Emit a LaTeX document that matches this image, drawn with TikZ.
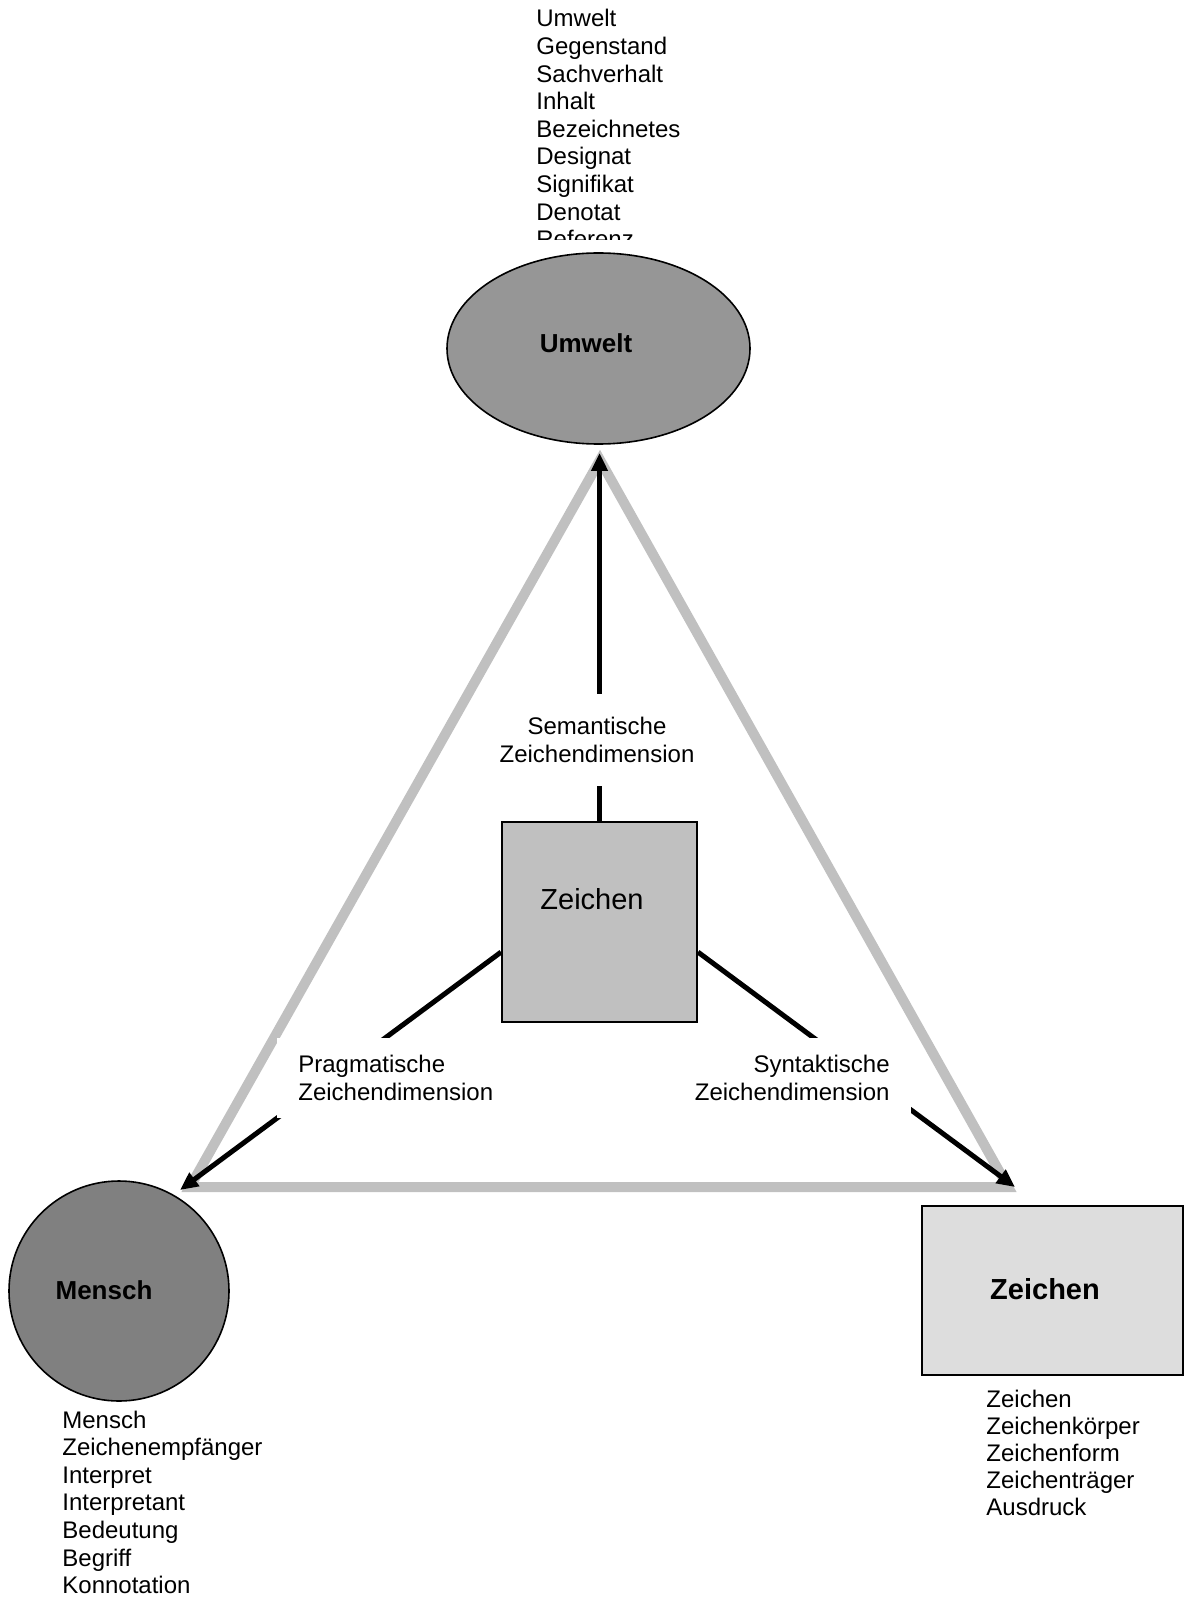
\documentclass[tikz,border=0pt]{standalone}
\usepackage{fontspec}
\setmainfont{Liberation Sans}
\usetikzlibrary{arrows.meta, shapes.geometric}

\definecolor{umweltgrau}{RGB}{150,150,150}
\definecolor{menschgrau}{RGB}{128,128,128}
\definecolor{mittelgrau}{RGB}{192,192,192}
\definecolor{hellgrau}{RGB}{221,221,221}

\newcommand{\listfont}{\fontsize{12}{13.8}\selectfont}

\begin{document}
\begin{tikzpicture}[x=0.5pt, y=-0.5pt]
        \tikzset{
            umweltoval/.style={draw, ellipse, fill=umweltgrau, line width=0.8pt, minimum width=151.5pt, minimum height=95.5pt, inner sep=0pt},
            menschkreis/.style={draw, circle, fill=menschgrau, line width=0.8pt, minimum size=110pt, inner sep=0pt},
            zeichenbox/.style={draw, rectangle, fill=hellgrau, line width=1pt, minimum width=130.5pt, minimum height=84.5pt, inner sep=0pt},
            mittelbox/.style={draw, rectangle, fill=mittelgrau, line width=1pt, minimum width=97.5pt, minimum height=100pt, inner sep=0pt},
            fett/.style={font=\fontsize{13}{15.6}\selectfont\bfseries, inner sep=0pt},
            dimlabel/.style={fill=white, font=\listfont, inner xsep=10.5pt, inner ysep=8.7pt},
            dimpfeil/.style={line width=2.5pt, -{Triangle[length=9pt, width=8pt]}},
            dreieck/.style={draw=mittelgrau, line width=5pt, line join=miter},
            liste/.style={font=\listfont, inner sep=0pt, anchor=base west}
        }
        \useasboundingbox (0,0) rectangle (1185,1598);

        % grey triangle
        \coordinate (spitze) at (600,460);
        \coordinate (linksunten) at (190,1187);
        \coordinate (rechtsunten) at (1008,1187);
        \draw[dreieck] (spitze) -- (linksunten) -- (rechtsunten) -- cycle;

        % the three corners and the sign in the middle
        \node[umweltoval] (umwelt) at (598.5,348.5) {};
        \node[fett] (umweltname) at (586,343) {Umwelt};
        \node[menschkreis] (mensch) at (119,1291) {};
        \node[fett] (menschname) at (104,1290) {Mensch};
        \node[zeichenbox] (zeichen) at (1052.5,1290.5) {};
        \node[fett, font=\fontsize{14.5}{17}\selectfont\bfseries] (zeichenname) at (1045,1289) {Zeichen};
        \node[mittelbox] (mitte) at (599.5,922) {};
        \node[font=\fontsize{14.5}{17}\selectfont, inner sep=0pt] (mittename) at (592,899) {Zeichen};

        % arrows
        \coordinate (umweltspitze) at (599.5,453);
        \coordinate (menschspitze) at (180,1190);
        \coordinate (zeichenspitze) at (1015,1187);
        \draw[dimpfeil] (mitte.north) -- (umweltspitze);
        \draw[dimpfeil] (mitte.197) -- (menschspitze);
        \draw[dimpfeil] (mitte.343) -- (zeichenspitze);

        \node[dimlabel, align=center, inner ysep=11.5pt] (semantik) at (597,740) {Semantische\\Zeichendimension};
        \node[dimlabel, align=left, anchor=west] (pragmatik) at (277,1078) {Pragmatische\\Zeichendimension};
        \node[dimlabel, align=right, anchor=east] (syntax) at (911,1078) {Syntaktische\\Zeichendimension};

        % word lists
        \begin{scope}
            \clip (0,0) rectangle (1185,240);
            \foreach \w [count=\i] in {Umwelt, Gegenstand, Sachverhalt, Inhalt, Bezeichnetes, Designat, Signifikat, Denotat, Referenz}
                \node[liste] (u\i) at (536,{27+27.6*(\i-1)}) {\w};
        \end{scope}
        \begin{scope}
            \clip (0,1400) rectangle (1185,1593);
            \foreach \w [count=\i] in {Mensch, Zeichenempfänger, Interpret, Interpretant, Bedeutung, Begriff, Konnotation}
                \node[liste] (m\i) at (62,{1428+27.6*(\i-1)}) {\w};
        \end{scope}
        \foreach \w [count=\i] in {Zeichen, Zeichenkörper, Zeichenform, Zeichenträger, Ausdruck}
            \node[liste] (z\i) at (986,{1407+27.1*(\i-1)}) {\w};
\end{tikzpicture}
\end{document}
